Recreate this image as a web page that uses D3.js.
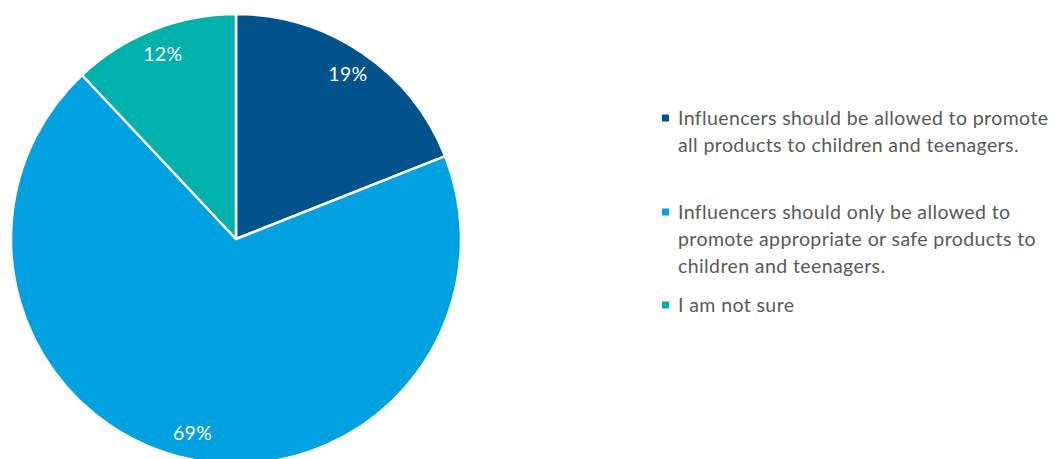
<!DOCTYPE html>
<html>
<head>
<meta charset="utf-8">
<script src="https://cdn.jsdelivr.net/npm/d3@7"></script>
<style>
  html, body { margin: 0; padding: 0; background: #fff; }
  svg { display: block; }
</style>
</head>
<body>
<svg id="chart" width="1064" height="459"></svg>
<script>
// Survey responses (share of respondents)
const categories = [
  "Influencers should be allowed to promote all products to children and teenagers.",
  "Influencers should only be allowed to promote appropriate or safe products to children and teenagers.",
  "I am not sure"
];
const values = [19, 69, 12];
const labels = ["19%", "69%", "12%"];
const legendLines = [
  ["Influencers should be allowed to promote", "all products to children and teenagers."],
  ["Influencers should only be allowed to", "promote appropriate or safe products to", "children and teenagers."],
  ["I am not sure"]
];
const colors = ["#00538b", "#00a1e0", "#00b0aa"];

const svg = d3.select("#chart");
const font = "Lato, 'Open Sans', sans-serif";

const cx = 236, cy = 239, radius = 225, labelRadius = 199;

const pie = d3.pie().sort(null).value(d => d);
const arcs = pie(values);
const arc = d3.arc().innerRadius(0).outerRadius(radius);
const labelArc = d3.arc().innerRadius(labelRadius).outerRadius(labelRadius);

const g = svg.append("g").attr("transform", `translate(${cx},${cy})`);

g.selectAll("path.slice")
  .data(arcs)
  .join("path")
  .attr("class", "slice")
  .attr("d", arc)
  .attr("fill", (d, i) => colors[i])
  .attr("stroke", "#fff")
  .attr("stroke-width", 2.5)
  .attr("stroke-linejoin", "round");

g.selectAll("text.value")
  .data(arcs)
  .join("text")
  .attr("class", "value")
  .attr("transform", d => `translate(${labelArc.centroid(d)})`)
  .attr("text-anchor", "middle")
  .attr("dy", "0.35em")
  .attr("fill", "#fff")
  .attr("font-family", font)
  .attr("font-size", 19.5)
  .attr("letter-spacing", 0.3)
  .text((d, i) => labels[i]);

// Legend
const legend = svg.append("g");
const itemTops = [118, 212, 305];
const lineH = 27.3;
legendLines.forEach((lines, i) => {
  const y0 = itemTops[i];
  legend.append("rect")
    .attr("x", 662).attr("y", y0 - 3.5)
    .attr("width", 7).attr("height", 7)
    .attr("fill", colors[i]);
  const t = legend.append("text")
    .attr("x", 678)
    .attr("y", y0)
    .attr("fill", "#595959")
    .attr("font-family", font)
    .attr("font-size", 19.5)
    .attr("letter-spacing", 0.4);
  lines.forEach((ln, j) => {
    t.append("tspan").attr("x", 678).attr("y", y0 + j * lineH).attr("dy", "0.35em").text(ln);
  });
});
</script>
</body>
</html>
